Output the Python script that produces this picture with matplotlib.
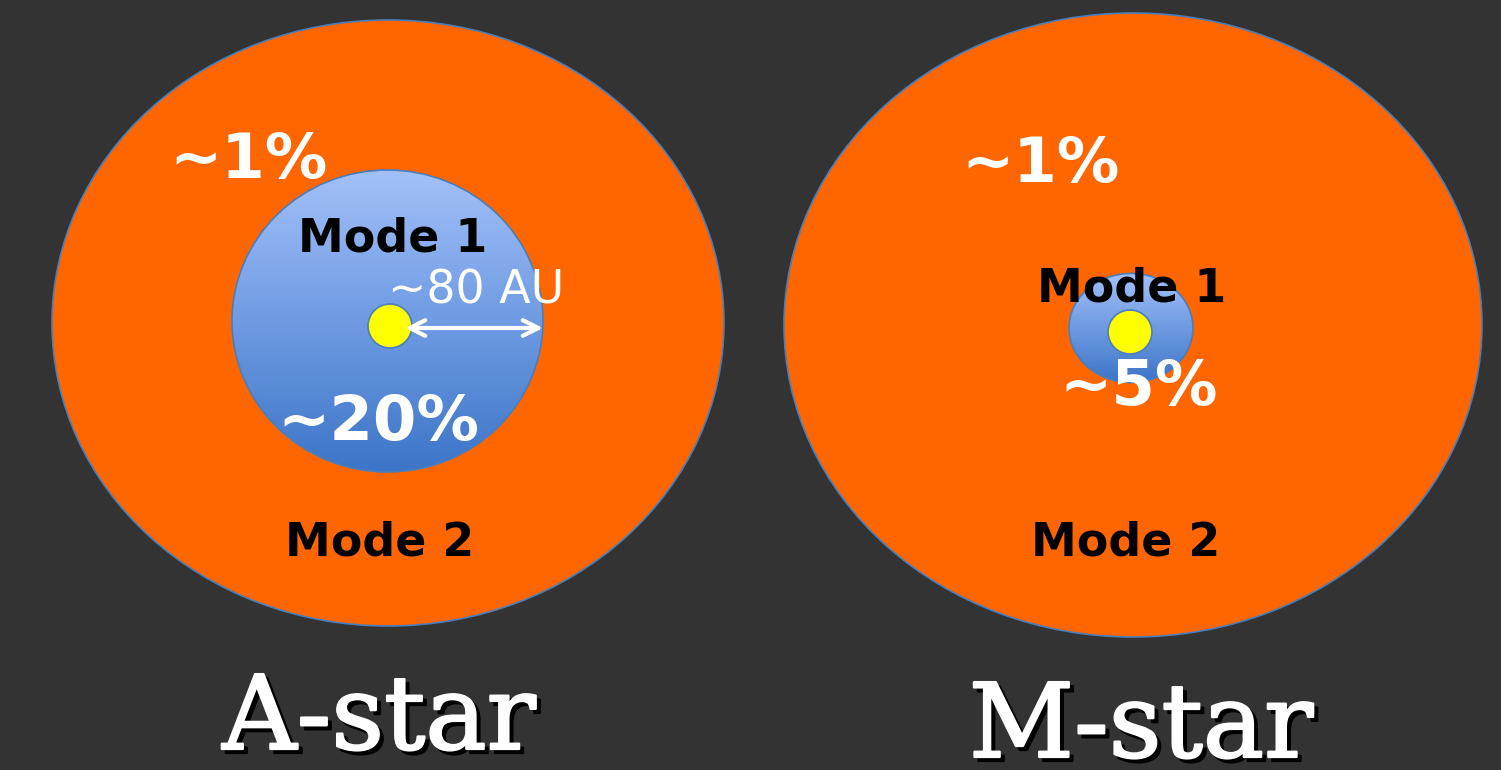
import matplotlib
matplotlib.use("Agg")
import matplotlib.pyplot as plt
import matplotlib.patches as mpatches
import matplotlib.patheffects as pe
import numpy as np
from matplotlib.colors import LinearSegmentedColormap

# textos del diagrama
star_names = ["A-star", "M-star"]
outer_share = ["~1%", "~1%"]
inner_share = ["~20%", "~5%"]
inner_label = "Mode 1"
outer_label = "Mode 2"
radius_label = "~80 AU"

bg = "#333333"
orange = "#FF6600"
edge = "#4A7EBB"

fig = plt.figure(figsize=(15.01, 7.70), dpi=100, facecolor=bg)
ax = fig.add_axes([0, 0, 1, 1])
ax.set_facecolor(bg)

grad = LinearSegmentedColormap.from_list("g", ["#A3C0F9", "#6F9BE2", "#3D75C8"])

# discos externos (Mode 2)
ax.add_patch(mpatches.Ellipse((388, 323), 672, 606, facecolor=orange, edgecolor=edge, lw=1.2, zorder=1))
ax.add_patch(mpatches.Ellipse((1133, 325), 698, 624, facecolor=orange, edgecolor=edge, lw=1.2, zorder=1))

# discos internos con degradado (Mode 1)
for (cx, cy, w, h) in [(387.5, 321, 311, 302), (1131, 328, 124, 109)]:
	e = mpatches.Ellipse((cx, cy), w, h, facecolor="none", edgecolor=edge, lw=1.2, zorder=3)
	ax.add_patch(e)
	img = ax.imshow(np.linspace(0, 1, 200).reshape(-1, 1), cmap=grad, aspect="auto",
		extent=(cx - w/2, cx + w/2, cy + h/2, cy - h/2), origin="upper", zorder=2)
	img.set_clip_path(e)

# estrellas
for (cx, cy) in [(390, 326), (1130, 332)]:
	ax.add_patch(mpatches.Circle((cx, cy), 22, facecolor="yellow", edgecolor=edge, lw=1.2, zorder=4))

# flecha de 80 AU
ax.annotate("", xy=(543, 328), xytext=(405, 328),
	arrowprops=dict(arrowstyle="<->", color="white", lw=3, mutation_scale=28, shrinkA=0, shrinkB=0), zorder=5)

# textos
ax.text(249, 178, outer_share[0], color="white", fontsize=45, fontweight="bold", ha="center", va="baseline", zorder=6)
ax.text(1041, 182, outer_share[1], color="white", fontsize=45, fontweight="bold", ha="center", va="baseline", zorder=6)
ax.text(393, 251, inner_label, color="black", fontsize=33, fontweight="bold", ha="center", va="baseline", zorder=6)
ax.text(1132, 302, inner_label, color="black", fontsize=33, fontweight="bold", ha="center", va="baseline", zorder=6)
ax.text(476, 304, radius_label, color="white", fontsize=33, ha="center", va="baseline", zorder=6)
ax.text(378, 440, inner_share[0], color="white", fontsize=45, fontweight="bold", ha="center", va="baseline", zorder=6)
ax.text(1139, 405, inner_share[1], color="white", fontsize=45, fontweight="bold", ha="center", va="baseline", zorder=6)
ax.text(380, 555, outer_label, color="black", fontsize=33, fontweight="bold", ha="center", va="baseline", zorder=6)
ax.text(1126, 555, outer_label, color="black", fontsize=33, fontweight="bold", ha="center", va="baseline", zorder=6)

# nombres con sombra
thick = [pe.withStroke(linewidth=1.6, foreground="white")]
for name, x, y in [(star_names[0], 379, 749), (star_names[1], 1141, 757)]:
	ax.text(x + 4, y + 4, name, color="black", fontsize=74, family="DejaVu Serif", ha="center", va="baseline",
		zorder=6, path_effects=[pe.withStroke(linewidth=1.6, foreground="black")])
	ax.text(x, y, name, color="white", fontsize=74, family="DejaVu Serif", ha="center", va="baseline",
		zorder=7, path_effects=thick)

ax.set_xlim(0, 1501)
ax.set_ylim(770, 0)
ax.axis("off")

fig.savefig("out.png", dpi=100, facecolor=bg)
